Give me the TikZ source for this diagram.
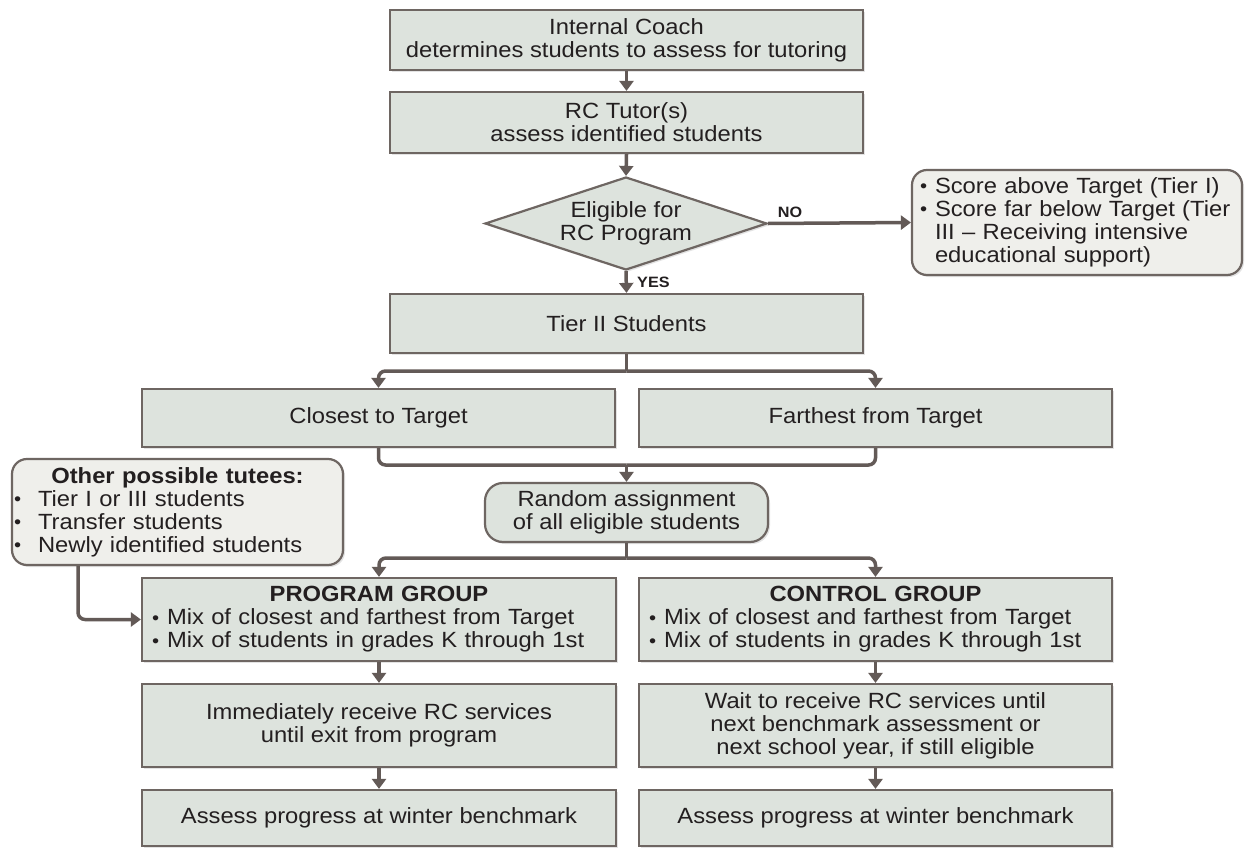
\documentclass[tikz,border=0pt]{standalone}
\usepackage{fontspec}
\setmainfont{Liberation Sans}[FakeStretch=1.08]
\usetikzlibrary{shapes.geometric,arrows.meta,shadows,calc}
\definecolor{boxfill}{HTML}{DDE3DD}
\definecolor{softfill}{HTML}{EFEFEB}
\definecolor{edgec}{HTML}{6E6662}
\definecolor{arrowc}{HTML}{635A57}
\definecolor{ink}{HTML}{231F20}
\newcommand\bul{\makebox[15pt][l]{\raisebox{0.8pt}{\scalebox{0.85}{•}}}}
\newcommand\bulw{\makebox[24pt][l]{\raisebox{0.8pt}{\scalebox{0.85}{•}}}}
\begin{document}
\begin{tikzpicture}[x=1pt,y=-1pt,
  base/.style={draw=edgec,line width=2.2pt,text=ink,inner sep=0pt,align=center,
    font=\fontsize{22}{23}\selectfont,
    drop shadow={shadow xshift=2pt,shadow yshift=-2pt,opacity=0.22}},
  box/.style={base,fill=boxfill,rectangle},
  softbox/.style={base,fill=softfill,rounded corners=15pt},
  pill/.style={base,fill=boxfill,rounded corners=18pt},
  dia/.style={base,fill=boxfill,diamond,aspect=3},
  arr/.style={draw=arrowc,line width=3.5pt,rounded corners=7pt,-{Triangle[width=14pt,length=10pt]}},
  line/.style={draw=arrowc,line width=3.5pt,rounded corners=7pt},
  lbl/.style={text=ink,inner sep=0pt,font=\bfseries\fontsize{15}{16}\selectfont}
]
\fill[white] (0,0) rectangle (1247,848);
\useasboundingbox (0,0) rectangle (1247,848);

\node[box,minimum width=473pt,minimum height=60pt] (n1) at (626.5,40)
  {Internal Coach\\determines students to assess for tutoring};
\node[box,minimum width=473pt,minimum height=61pt] (n2) at (626.5,122.5)
  {RC Tutor(s)\\assess identified students};
\node[dia,minimum width=282pt,minimum height=93pt] (dia) at (626,223.5)
  {Eligible for\\RC Program};
\node[softbox,minimum width=330pt,minimum height=105pt,text width=314pt,align=left] (rbox) at (1077,222.5)
  {\bul Score above Target (Tier I)\\
   \bul Score far below Target (Tier\\
   \hspace*{15pt}III – Receiving intensive\\
   \hspace*{15pt}educational support)};
\node[box,minimum width=473pt,minimum height=59pt] (tier2) at (626.5,323.5) {Tier II Students};
\node[box,minimum width=473pt,minimum height=58pt] (closest) at (378.5,418) {Closest to Target};
\node[box,minimum width=473pt,minimum height=58pt] (farthest) at (875.5,418) {Farthest from Target};
\node[pill,minimum width=283pt,minimum height=59pt] (random) at (626.5,512.5)
  {Random assignment\\of all eligible students};
\node[softbox,minimum width=331pt,minimum height=106pt,text width=327pt,align=left] (other) at (177.5,512)
  {\makebox[\hsize]{\textbf{Other possible tutees:}}\\
   \bulw Tier I or III students\\
   \bulw Transfer students\\
   \bulw Newly identified students};
\node[box,minimum width=474pt,minimum height=83pt,text width=454pt,align=left] (prog) at (379,619.5)
  {\makebox[\hsize]{\textbf{PROGRAM GROUP}}\\
   \bul Mix of closest and farthest from Target\\
   \bul Mix of students in grades K through 1st};
\node[box,minimum width=473pt,minimum height=83pt,text width=453pt,align=left] (ctrl) at (875.5,619.5)
  {\makebox[\hsize]{\textbf{CONTROL GROUP}}\\
   \bul Mix of closest and farthest from Target\\
   \bul Mix of students in grades K through 1st};
\node[box,minimum width=474pt,minimum height=83pt] (prog2) at (379,725.5)
  {Immediately receive RC services\\until exit from program};
\node[box,minimum width=473pt,minimum height=83pt] (ctrl2) at (875.5,725.5)
  {Wait to receive RC services until\\next benchmark assessment or\\next school year, if still eligible};
\node[box,minimum width=474pt,minimum height=56pt] (prog3) at (379,818)
  {Assess progress at winter benchmark};
\node[box,minimum width=473pt,minimum height=56pt] (ctrl3) at (875.5,818)
  {Assess progress at winter benchmark};

\node[lbl] (no) at (790,212) {NO};
\node[lbl,anchor=west] (yes) at (637,282) {YES};

\coordinate (s1) at (626.5,371);
\coordinate (m1) at (626.5,465);
\coordinate (s2) at (626.5,558);

\draw[arr] (n1.south) -- (n2.north);
\draw[arr] (n2.south) -- (dia.north);
\draw[arr] (dia.east) -- (rbox.west);
\draw[arr] (dia.south) -- (tier2.north);
\draw[line] (tier2.south) -- (s1);
\draw[arr] (s1) -| (closest.north);
\draw[arr] (s1) -| (farthest.north);
\draw[line] (closest.south) |- (m1);
\draw[line] (farthest.south) |- (m1);
\draw[arr] (m1) -- (random.north);
\draw[line] (random.south) -- (s2);
\draw[arr] (s2) -| (prog.north);
\draw[arr] (s2) -| (ctrl.north);
\draw[arr] ([xshift=-99.5pt]other.south) |- (prog.west);
\draw[arr] (prog.south) -- (prog2.north);
\draw[arr] (prog2.south) -- (prog3.north);
\draw[arr] (ctrl.south) -- (ctrl2.north);
\draw[arr] (ctrl2.south) -- (ctrl3.north);
\end{tikzpicture}
\end{document}
